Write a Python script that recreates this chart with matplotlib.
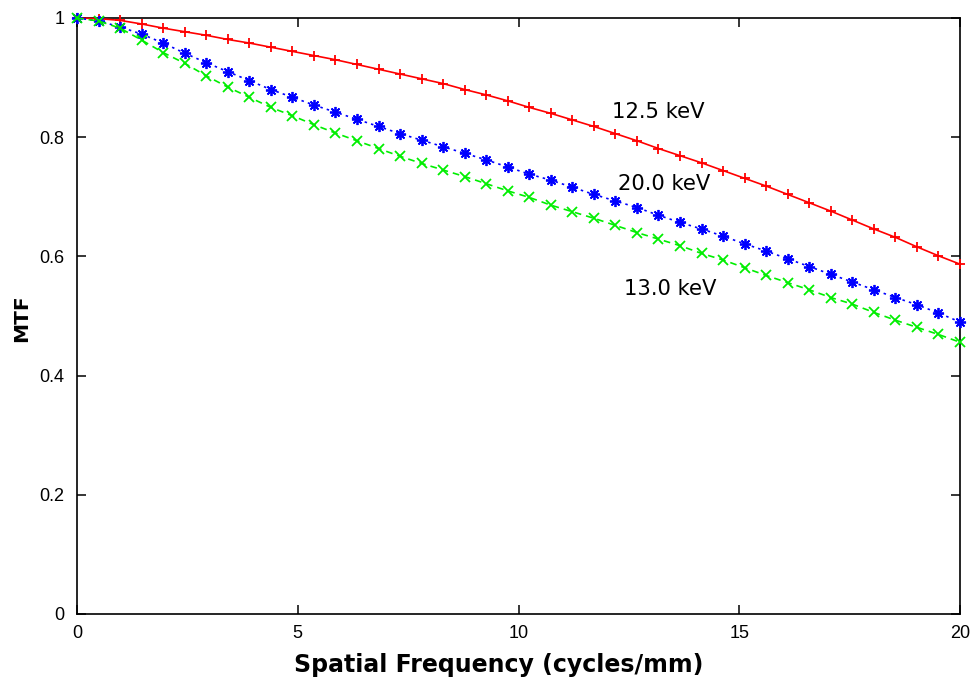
import numpy as np
import matplotlib
matplotlib.use("Agg")
import matplotlib.pyplot as plt

plt.rcParams['font.family'] = ['DejaVu Sans']

# Spatial frequency sampling grid (cycles/mm), 42 samples from 0 to 20
freq = np.linspace(0, 20, 42)

mtf_125 = [1.000, 0.999, 0.996, 0.990, 0.983, 0.977, 0.971, 0.964, 0.958, 0.951,
           0.944, 0.937, 0.930, 0.922, 0.914, 0.906, 0.898, 0.890, 0.880, 0.871,
           0.861, 0.850, 0.840, 0.829, 0.818, 0.806, 0.794, 0.781, 0.769, 0.757,
           0.744, 0.731, 0.718, 0.704, 0.690, 0.676, 0.661, 0.646, 0.632, 0.616,
           0.601, 0.587]
mtf_200 = [1.000, 0.995, 0.985, 0.973, 0.958, 0.941, 0.925, 0.910, 0.895, 0.880,
           0.867, 0.854, 0.842, 0.830, 0.818, 0.806, 0.795, 0.784, 0.773, 0.762,
           0.750, 0.738, 0.728, 0.716, 0.704, 0.693, 0.682, 0.669, 0.657, 0.646,
           0.634, 0.621, 0.609, 0.596, 0.583, 0.570, 0.557, 0.544, 0.531, 0.519,
           0.505, 0.490]
mtf_130 = [1.000, 0.995, 0.983, 0.963, 0.942, 0.924, 0.903, 0.884, 0.867, 0.850,
           0.836, 0.821, 0.807, 0.794, 0.781, 0.768, 0.756, 0.745, 0.734, 0.722,
           0.710, 0.699, 0.686, 0.675, 0.664, 0.652, 0.640, 0.629, 0.618, 0.605,
           0.594, 0.581, 0.568, 0.556, 0.544, 0.531, 0.520, 0.506, 0.493, 0.481,
           0.469, 0.456]

series_labels = ["12.5 keV", "20.0 keV", "13.0 keV"]
label_pos = [(12.12, 0.842), (12.26, 0.722), (12.38, 0.545)]

x_ticks = [0, 5, 10, 15, 20]
x_ticklabels = ["0", "5", "10", "15", "20"]
y_ticks = [0, 0.2, 0.4, 0.6, 0.8, 1.0]
y_ticklabels = ["0", "0.2", "0.4", "0.6", "0.8", "1"]

fig = plt.figure(figsize=(9.73, 6.77), dpi=100)
ax = fig.add_axes([77/973, 1 - 614/677, (960 - 77)/973, (614 - 18)/677])

ax.plot(freq, mtf_125, color='#ff0000', lw=1.2, ls='-', marker='+',
        markersize=7.5, markeredgewidth=1.3, clip_on=False, zorder=3)
ax.plot(freq, mtf_200, color='#0000ff', lw=1.2, ls=(0, (1.5, 2.5)), marker=(8, 2, 0),
        markersize=8, markeredgewidth=1.3, clip_on=False, zorder=3)
ax.plot(freq, mtf_130, color='#00ee00', lw=1.2, ls=(0, (4, 3)), marker='x',
        markersize=6.5, markeredgewidth=1.3, clip_on=False, zorder=3)

for lab, (lx, ly) in zip(series_labels, label_pos):
    ax.text(lx, ly, lab, fontsize=15.2, ha='left', va='center', color='black')

ax.set_xlim(0, 20)
ax.set_ylim(0, 1)
ax.set_xticks(x_ticks)
ax.set_xticklabels(x_ticklabels)
ax.set_yticks(y_ticks)
ax.set_yticklabels(y_ticklabels)
ax.tick_params(direction='in', length=6.5, width=1.1, top=True, right=True)
ax.tick_params(axis='x', pad=8)
ax.tick_params(axis='y', pad=9)
for lbl in ax.get_xticklabels() + ax.get_yticklabels():
    lbl.set_fontfamily(['Liberation Sans', 'DejaVu Sans'])
    lbl.set_fontsize(13)

for sp in ax.spines.values():
    sp.set_linewidth(1.2)
    sp.set_color('black')

ax.set_xlabel("Spatial Frequency (cycles/mm)", fontsize=17, fontweight='bold')
ax.set_ylabel("MTF", fontsize=14.5, fontweight='bold')
ax.xaxis.set_label_coords(0.477, -0.065)
ax.yaxis.set_label_coords(-0.052, 0.497)

fig.savefig("out.png", dpi=100)
